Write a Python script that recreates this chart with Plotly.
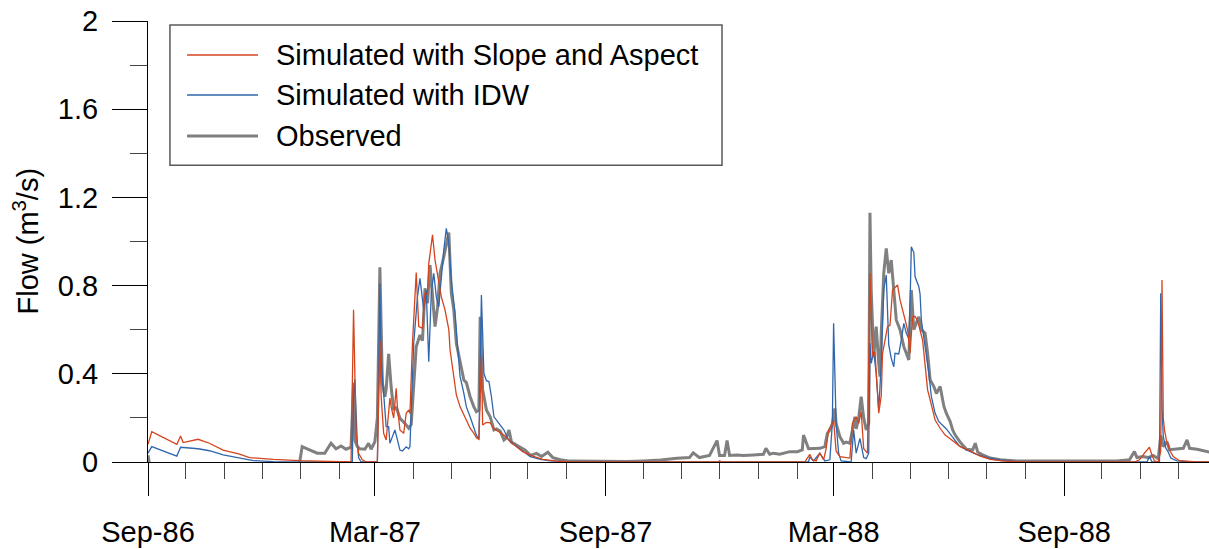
import pandas as pd
import plotly.graph_objects as go

# Daily flow record, indexed by day number counted from 1 Sep 1986
START = pd.Timestamp("1986-09-01")

slope_aspect_day = [
    0, 3, 23, 26, 28, 40, 49, 60, 73, 81, 100, 121, 153, 162, 164, 165, 166, 168, 171, 174,
    183, 185, 186, 188, 190, 193, 194, 196, 198, 199, 201, 204, 206, 208, 209, 211, 214, 216,
    218, 219, 221, 223, 224, 227, 229, 232, 234, 237, 240, 241, 244, 246, 249, 252, 254, 257,
    260, 262, 264, 266, 267, 270, 273, 276, 280, 284, 289, 294, 299, 307, 315, 326, 337, 455,
    456, 458, 524, 528, 530, 533, 536, 539, 541, 543, 546, 547, 549, 552, 560, 562, 565, 567,
    569, 571, 574, 576, 578, 580, 582, 583, 585, 586, 590, 592, 594, 598, 600, 602, 606, 608,
    610, 612, 614, 618, 620, 622, 626, 628, 632, 636, 640, 648, 656, 664, 672, 682, 693, 712,
    787, 791, 795, 799, 801, 803, 806, 808, 809, 810, 811, 813, 814, 815, 818, 823, 834, 847,
]
slope_aspect_flow = [
    0.08, 0.137, 0.08, 0.118, 0.088, 0.103, 0.085, 0.054, 0.036, 0.020, 0.012, 0.006, 0.002, 0.0, 0.69, 0.372, 0.13, 0.039, 0.01, 0.0,
    0.0, 0.55, 0.3, 0.13, 0.1, 0.29, 0.25, 0.2, 0.334, 0.25, 0.145, 0.13, 0.221, 0.236, 0.22, 0.538, 0.859, 0.614,
    0.606, 0.606, 0.765, 0.76, 0.9, 1.03, 0.916, 0.81, 0.75, 0.689, 0.6, 0.508, 0.372, 0.304, 0.25, 0.213, 0.183, 0.153,
    0.13, 0.11, 0.103, 0.478, 0.168, 0.18, 0.178, 0.15, 0.137, 0.122, 0.092, 0.069, 0.047, 0.027, 0.012, 0.004, 0.0, 0.0,
    0.006, 0.0, 0.0, 0.035, 0.01, 0.005, 0.04, 0.01, 0.06, 0.145, 0.17, 0.19, 0.05, 0.024, 0.018, 0.175, 0.205, 0.175,
    0.228, 0.06, 0.04, 0.856, 0.478, 0.5, 0.327, 0.221, 0.30, 0.49, 0.614, 0.62, 0.78, 0.803, 0.735, 0.689, 0.6, 0.493,
    0.659, 0.66, 0.64, 0.553, 0.432, 0.327, 0.236, 0.19, 0.153, 0.122, 0.105, 0.07, 0.05, 0.027, 0.012, 0.005, 0.002, 0.0,
    0.0, 0.01, 0.04, 0.067, 0.03, 0.005, 0.0, 0.05, 0.825, 0.2, 0.145, 0.085, 0.08, 0.054, 0.025, 0.006, 0.002, 0.0,
]

idw_day = [
    0, 3, 23, 26, 40, 49, 60, 73, 84, 100, 125, 163, 164, 165, 167, 168, 170, 183, 184, 185,
    186, 188, 189, 190, 192, 193, 195, 197, 199, 201, 203, 206, 208, 209, 210, 212, 215, 217,
    220, 222, 224, 226, 228, 230, 232, 234, 236, 238, 240, 242, 245, 247, 249, 252, 254, 257,
    260, 262, 264, 266, 268, 270, 272, 274, 276, 280, 284, 287, 291, 297, 305, 313, 321, 337,
    527, 528, 531, 536, 540, 544, 546, 547, 549, 551, 553, 561, 563, 565, 568, 571, 573, 575,
    576, 577, 579, 581, 583, 585, 587, 589, 590, 591, 593, 595, 596, 599, 601, 603, 605, 607,
    608, 609, 611, 612, 615, 616, 617, 620, 623, 625, 628, 631, 635, 637, 641, 647, 653, 661,
    669, 680, 693, 710, 797, 799, 801, 807, 808, 809, 810, 812, 814, 816, 821, 832, 847,
]
idw_flow = [
    0.04, 0.07, 0.027, 0.067, 0.06, 0.051, 0.032, 0.017, 0.006, 0.002, 0.0, 0.0, 0.3, 0.375, 0.086, 0.02, 0.0, 0.0, 0.387, 0.81,
    0.463, 0.327, 0.25, 0.16, 0.16, 0.085, 0.115, 0.145, 0.1, 0.054, 0.05, 0.069, 0.06, 0.07, 0.236, 0.538, 0.75, 0.833,
    0.689, 0.78, 0.455, 0.765, 0.856, 0.75, 0.704, 0.84, 0.961, 1.06, 0.992, 0.825, 0.674, 0.523, 0.387, 0.311, 0.25, 0.205,
    0.16, 0.122, 0.103, 0.757, 0.402, 0.369, 0.365, 0.296, 0.205, 0.175, 0.145, 0.107, 0.085, 0.058, 0.024, 0.012, 0.005, 0.0,
    0.0, 0.024, 0.005, 0.04, 0.005, 0.01, 0.175, 0.629, 0.175, 0.04, 0.005, 0.0, 0.145, 0.04, 0.107, 0.02, 0.015, 0.04,
    0.538, 0.447, 0.5, 0.4, 0.236, 0.447, 0.78, 0.848, 0.659, 0.531, 0.47, 0.432, 0.493, 0.49, 0.553, 0.629, 0.584, 0.56,
    0.72, 0.976, 0.95, 0.84, 0.795, 0.76, 0.644, 0.523, 0.402, 0.296, 0.221, 0.183, 0.16, 0.15, 0.12, 0.075, 0.055, 0.035,
    0.021, 0.01, 0.002, 0.0, 0.0, 0.025, 0.0, 0.0, 0.765, 0.25, 0.116, 0.063, 0.045, 0.018, 0.005, 0.0, 0.0,
]

observed_day = [
    0, 1, 2, 120, 121, 123, 127, 135, 141, 146, 150, 154, 158, 162, 164, 165, 167, 169, 173, 176,
    178, 181, 183, 185, 187, 189, 190, 192, 194, 196, 198, 201, 205, 208, 210, 212, 214, 217,
    219, 221, 223, 225, 227, 229, 231, 233, 236, 238, 240, 242, 244, 246, 249, 252, 254, 257,
    260, 262, 264, 265, 267, 270, 273, 276, 278, 281, 284, 286, 288, 290, 294, 298, 301, 305,
    310, 314, 319, 323, 329, 337, 382, 395, 409, 422, 432, 435, 440, 448, 454, 456, 460, 462,
    464, 470, 475, 483, 491, 493, 496, 499, 504, 512, 518, 522, 523, 527, 531, 536, 540, 542,
    544, 546, 548, 549, 552, 555, 557, 560, 563, 564, 565, 567, 569, 571, 573, 575, 576, 577,
    579, 581, 583, 584, 585, 587, 589, 591, 593, 595, 597, 600, 603, 605, 607, 609, 611, 613,
    615, 617, 620, 622, 624, 627, 629, 632, 635, 637, 640, 642, 644, 648, 653, 658, 660, 662,
    666, 672, 680, 693, 773, 783, 787, 789, 794, 798, 802, 806, 808, 810, 813, 815, 821, 826,
    829, 831, 837, 845, 847,
]
observed_flow = [
    0.03, 0.0, None, None, 0.0, 0.07, 0.06, 0.04, 0.04, 0.085, 0.06, 0.073, 0.058, 0.067, 0.36, 0.1, 0.07, 0.06, 0.058, 0.085,
    0.058, 0.092, 0.2, 0.883, 0.357, 0.296, 0.33, 0.49, 0.34, 0.236, 0.25, 0.198, 0.175, 0.153, 0.17, 0.372, 0.523, 0.576,
    0.55, 0.788, 0.72, 0.893, 0.757, 0.614, 0.7, 0.856, 0.931, 0.992, 1.04, 0.766, 0.689, 0.538, 0.447, 0.372, 0.36, 0.296,
    0.25, 0.228, 0.235, 0.659, 0.327, 0.236, 0.205, 0.145, 0.15, 0.14, 0.1, 0.11, 0.145, 0.09, 0.077, 0.065, 0.054, 0.03,
    0.039, 0.025, 0.044, 0.02, 0.01, 0.004, 0.002, 0.005, 0.009, 0.017, 0.02, 0.042, 0.02, 0.03, 0.097, 0.03, 0.03, 0.097,
    0.03, 0.032, 0.03, 0.032, 0.035, 0.062, 0.035, 0.04, 0.035, 0.047, 0.047, 0.055, 0.122, 0.06, 0.062, 0.062, 0.07, 0.13,
    0.145, 0.175, 0.243, 0.175, 0.115, 0.085, 0.09, 0.085, 0.175, 0.205, 0.15, 0.2, 0.296, 0.2, 0.145, 0.175, 1.13, 0.78,
    0.478, 0.614, 0.447, 0.387, 0.584, 0.856, 0.969, 0.856, 0.916, 0.795, 0.644, 0.6, 0.523, 0.493, 0.463, 0.78, 0.6, 0.63,
    0.659, 0.6, 0.584, 0.493, 0.372, 0.342, 0.311, 0.342, 0.252, 0.22, 0.183, 0.145, 0.122, 0.09, 0.058, 0.055, 0.085, 0.045,
    0.032, 0.018, 0.01, 0.004, 0.005, 0.01, 0.047, 0.02, 0.025, 0.02, 0.03, 0.015, 0.12, 0.07, 0.092, 0.056, 0.058, 0.062,
    0.1, 0.062, 0.058, 0.047, 0.045,
]

series_names = ["Simulated with Slope and Aspect", "Simulated with IDW", "Observed"]
y_ticks = [0, 0.4, 0.8, 1.2, 1.6, 2]

RED = "#D5441C"
BLUE = "#2F66AD"
GREY = "#808080"
FONT = "Liberation Sans, Arial, sans-serif"
NBSP = "\u00a0"


def to_dates(days):
    return [START + pd.Timedelta(days=d) for d in days]


fig = go.Figure()
# observed drawn first so the simulated lines sit on top of it
fig.add_trace(go.Scatter(x=to_dates(observed_day), y=observed_flow, mode="lines",
                         line=dict(color=GREY, width=3), connectgaps=False,
                         name=series_names[2]))
fig.add_trace(go.Scatter(x=to_dates(idw_day), y=idw_flow, mode="lines",
                         line=dict(color=BLUE, width=1.3), name=series_names[1]))
fig.add_trace(go.Scatter(x=to_dates(slope_aspect_day), y=slope_aspect_flow, mode="lines",
                         line=dict(color=RED, width=1.3), name=series_names[0]))

fig.update_xaxes(
    type="date",
    range=[START, START + pd.Timedelta(days=846.5)],
    tickmode="linear", tick0=START, dtick="M6", tickformat="%b-%y",
    ticks="outside", ticklen=33, tickwidth=1, tickcolor="black",
    minor=dict(dtick="M1", tick0=START, ticks="outside", ticklen=16,
               tickwidth=1, tickcolor="#444444"),
    showline=True, linecolor="black", linewidth=1,
    showgrid=False, zeroline=False, layer="below traces",
    tickfont=dict(family=FONT, size=29, color="black"),
    ticklabelstandoff=11,
)
fig.update_yaxes(
    range=[0, 2], tickmode="array", tickvals=y_ticks,
    ticktext=[f"{v:g}{NBSP}" for v in y_ticks],
    ticks="outside", ticklen=35, tickwidth=1, tickcolor="black",
    minor=dict(dtick=0.2, tick0=0, ticks="outside", ticklen=17,
               tickwidth=1, tickcolor="#444444"),
    showline=True, linecolor="black", linewidth=1,
    showgrid=False, zeroline=False, layer="below traces",
    tickfont=dict(family=FONT, size=29, color="black"),
)

# legend box with long sample lines
fig.add_shape(type="rect", xref="paper", yref="paper",
              x0=0.0207, x1=0.541, y0=0.673, y1=0.991,
              line=dict(color="#595959", width=1.5), fillcolor="white", layer="above")
legend_rows = [(series_names[0], RED, 1.3, 0.9229),
               (series_names[1], BLUE, 1.3, 0.8322),
               (series_names[2], GREY, 3, 0.7392)]
for label, color, width, yy in legend_rows:
    fig.add_shape(type="line", xref="paper", yref="paper",
                  x0=0.0368, x1=0.1037, y0=yy, y1=yy,
                  line=dict(color=color, width=width), layer="above")
    fig.add_annotation(xref="paper", yref="paper", x=0.1188, y=yy,
                       xanchor="left", yanchor="middle", showarrow=False,
                       text=label, font=dict(family=FONT, size=29, color="black"))

fig.add_annotation(xref="paper", yref="paper", x=-0.1159, y=0.5,
                   xanchor="center", yanchor="middle", showarrow=False, textangle=-90,
                   text="Flow (m<sup>3</sup>/s)",
                   font=dict(family=FONT, size=29, color="black"))

fig.update_layout(
    width=1209, height=549,
    margin=dict(l=148, r=0, t=21, b=87),
    plot_bgcolor="white", paper_bgcolor="white",
    showlegend=False,
    font=dict(family=FONT, size=29, color="black"),
)

fig.write_html("out.html")
